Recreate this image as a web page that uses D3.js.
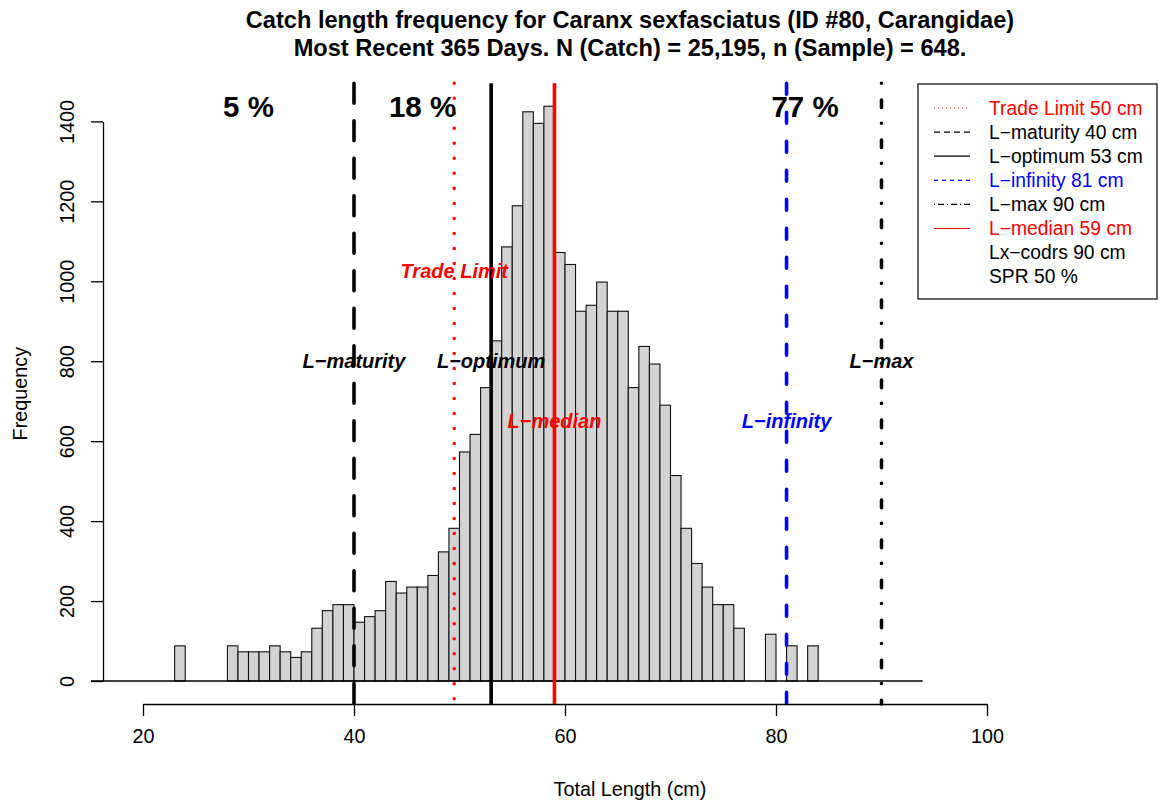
<!DOCTYPE html>
<html>
<head>
<meta charset="utf-8">
<script src="https://cdn.jsdelivr.net/npm/d3@7"></script>
<style>
  body { margin: 0; background: #fff; }
  text { font-family: "Liberation Sans", Arial, Helvetica, sans-serif; }
</style>
</head>
<body>
<div id="chart"></div>
<script>
const width = 1163,
      height = 805

// histogram, 1 cm bins starting at 23 cm
const binStarts = d3.range(23, 84)
const counts = [88, 0, 0, 0, 0, 88, 73, 73, 73, 88, 73, 59, 73, 132, 176, 191, 191,
                147, 161, 176, 249, 220, 235, 235, 264, 323, 382, 573, 617, 734, 851,
                1086, 1189, 1424, 1395, 1438, 1072, 1042, 925, 940, 998, 925, 925, 734,
                837, 793, 690, 514, 382, 294, 235, 191, 191, 132, 0, 0, 117, 0, 88, 0, 88]

const xTicks = [20, 40, 60, 80, 100]
const yTicks = [0, 200, 400, 600, 800, 1000, 1200, 1400]

// reference lines
const refNames = ["Trade Limit", "L\u2212maturity", "L\u2212optimum", "L\u2212infinity", "L\u2212max", "L\u2212median"]
const refValues = [49.5, 40, 53, 81, 90, 59]
const refLabelY = [1025, 800, 800, 650, 800, 650]
const refColors = ["red", "black", "black", "blue", "black", "red"]
const refDash = ["0.01 15", "20 17.5", null, "11 18", "0.01 16.75 7.5 15.75", null]

const pctLabels = ["5 %", "18 %", "77 %"]
const pctX = [30, 46.5, 82.75]

const legendLabels = ["Trade Limit 50 cm", "L\u2212maturity 40 cm", "L\u2212optimum 53 cm",
                      "L\u2212infinity 81 cm", "L\u2212max 90 cm", "L\u2212median 59 cm",
                      "Lx\u2212codrs 90 cm", "SPR 50 %"]
const legendColors = ["red", "black", "black", "blue", "black", "red", "black", "black"]
const legendDash = ["1 3", "6 4", null, "4 4", "1 3 6 3", null, "none", "none"]

const titleLines = ["Catch length frequency for Caranx sexfasciatus (ID #80, Carangidae)",
                    "Most Recent 365 Days. N (Catch) = 25,195, n (Sample) = 648."]

let x = d3.scaleLinear().domain([20, 100]).range([143, 987])
let y = d3.scaleLinear().domain([0, 1400]).range([681, 121.4])

const plotTop = 83.3,
      plotBottom = 704,
      plotLeft = 103,
      plotRight = 1157

let svg = d3.select("#chart").append("svg")
    .attr("width", width)
    .attr("height", height)

// bars
svg.append("g")
    .selectAll("rect")
    .data(counts)
    .join("rect")
    .attr("x", (d, i) => x(binStarts[i]))
    .attr("y", d => y(d))
    .attr("width", (d, i) => x(binStarts[i] + 1) - x(binStarts[i]))
    .attr("height", d => y(0) - y(d))
    .attr("fill", "#d3d3d3")
    .attr("stroke", "#111")
    .attr("stroke-width", 1.1)

// baseline under the bars
svg.append("line")
    .attr("x1", x(15.07)).attr("x2", x(93.9))
    .attr("y1", y(0)).attr("y2", y(0))
    .attr("stroke", "black").attr("stroke-width", 1.3)

// vertical reference lines
svg.append("g")
    .selectAll("line")
    .data(refValues)
    .join("line")
    .attr("x1", d => x(d)).attr("x2", d => x(d))
    .attr("y1", plotTop).attr("y2", plotBottom)
    .attr("stroke", (d, i) => refColors[i])
    .attr("stroke-width", (d, i) => i == 0 ? 3.5 : 3.6)
    .attr("stroke-linecap", (d, i) => refDash[i] ? "round" : "butt")
    .attr("stroke-dasharray", (d, i) => refDash[i])

// labels on the lines
svg.append("g")
    .selectAll("text")
    .data(refNames)
    .join("text")
    .attr("x", (d, i) => x(refValues[i]))
    .attr("y", (d, i) => y(refLabelY[i]))
    .attr("text-anchor", "middle")
    .attr("dominant-baseline", "central")
    .attr("font-size", 20)
    .attr("font-weight", "bold")
    .attr("font-style", "italic")
    .attr("fill", (d, i) => refColors[i])
    .text(d => d)

// percentages
svg.append("g")
    .selectAll("text")
    .data(pctLabels)
    .join("text")
    .attr("x", (d, i) => x(pctX[i]))
    .attr("y", y(1438))
    .attr("text-anchor", "middle")
    .attr("dominant-baseline", "central")
    .attr("font-size", 29.5)
    .attr("font-weight", "bold")
    .text(d => d)

// x axis
let xAxis = svg.append("g")
    .attr("transform", `translate(0,${plotBottom})`)
    .call(d3.axisBottom(x).tickValues(xTicks).tickSize(12).tickPadding(13).tickSizeOuter(0))
xAxis.select(".domain").attr("stroke-width", 1.3)
xAxis.selectAll(".tick line").attr("stroke-width", 1.3)
xAxis.selectAll("text")
    .attr("font-size", 19.8)
    .attr("font-family", "Liberation Sans, Arial, sans-serif")

// y axis, R style: rotated labels
let yAxis = svg.append("g")
    .attr("transform", `translate(${plotLeft},0)`)
    .call(d3.axisLeft(y).tickValues(yTicks).tickSize(12).tickSizeOuter(0))
yAxis.select(".domain").attr("stroke-width", 1.3)
yAxis.selectAll(".tick line").attr("stroke-width", 1.3)
yAxis.selectAll(".tick text").remove()
yAxis.selectAll(".tick")
    .append("text")
    .attr("transform", "translate(-36,0) rotate(-90)")
    .attr("text-anchor", "middle")
    .attr("dominant-baseline", "central")
    .attr("fill", "black")
    .attr("font-size", 19.8)
    .attr("font-family", "Liberation Sans, Arial, sans-serif")
    .text(d => d)

// axis titles
svg.append("text")
    .attr("x", (plotLeft + plotRight) / 2)
    .attr("y", 789)
    .attr("text-anchor", "middle")
    .attr("dominant-baseline", "central")
    .attr("font-size", 19.8)
    .text("Total Length (cm)")

svg.append("text")
    .attr("transform", `translate(20,${(plotTop + plotBottom) / 2}) rotate(-90)`)
    .attr("text-anchor", "middle")
    .attr("dominant-baseline", "central")
    .attr("font-size", 19.8)
    .text("Frequency")

// title
svg.append("g")
    .selectAll("text")
    .data(titleLines)
    .join("text")
    .attr("x", (plotLeft + plotRight) / 2)
    .attr("y", (d, i) => 28 + i * 28)
    .attr("text-anchor", "middle")
    .attr("font-size", 23.6)
    .attr("font-weight", "bold")
    .text(d => d)

// legend, top right of the plot region
let legend = svg.append("g")
legend.append("rect")
    .attr("x", 918).attr("y", 84)
    .attr("width", plotRight - 918).attr("height", 215)
    .attr("fill", "white")
    .attr("stroke", "black")
    .attr("stroke-width", 1.2)

let rows = legend.selectAll("g.row")
    .data(legendLabels)
    .join("g")
    .attr("class", "row")
    .attr("transform", (d, i) => `translate(0,${108 + i * 24.1})`)

rows.filter((d, i) => legendDash[i] != "none")
    .append("line")
    .attr("x1", 934).attr("x2", 970)
    .attr("stroke", (d, i) => legendColors[legendLabels.indexOf(d)])
    .attr("stroke-width", 1.2)
    .attr("stroke-dasharray", d => legendDash[legendLabels.indexOf(d)])

rows.append("text")
    .attr("x", 989)
    .attr("dominant-baseline", "central")
    .attr("font-size", 19.3)
    .attr("fill", (d, i) => legendColors[i])
    .text(d => d)
</script>
</body>
</html>
